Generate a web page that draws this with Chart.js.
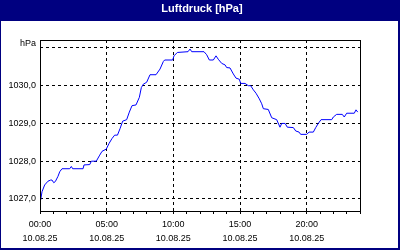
<!DOCTYPE html>
<html>
<head>
<meta charset="utf-8">
<script src="https://cdn.jsdelivr.net/npm/chart.js@4"></script>
<style>
  html, body { margin: 0; padding: 0; background: #fff; }
  canvas { display: block; }
</style>
</head>
<body>
<canvas id="chart" width="400" height="250"></canvas>
<script>
// Luftdruck vom 10.08.25, Stunden seit Mitternacht / hPa
const hours = [
    0.05, 0.15, 0.35, 0.6, 0.8, 0.9, 1.03, 1.15, 1.35, 1.48, 1.65, 2.23, 2.35, 2.45,
    3.23, 3.3, 3.73, 3.85, 4.22, 4.48, 4.65, 4.97, 5.18, 5.4, 5.6, 5.81, 6.0, 6.2,
    6.5, 6.7, 6.9, 7.2, 7.45, 7.6, 7.75, 8.0, 8.25, 8.7, 9.0, 9.25, 9.35, 9.95,
    10.05, 10.3, 11.1, 11.25, 11.38, 12.3, 12.5, 12.7, 13.0, 13.2, 13.37, 13.63,
    13.88, 14.0, 14.25, 14.5, 14.7, 14.95, 15.05, 15.38, 15.62, 15.8, 16.0, 16.2,
    16.45, 16.63, 16.75, 17.12, 17.38, 17.75, 18.0, 18.13, 18.38, 18.55, 19.0,
    19.18, 19.43, 19.55, 20.0, 20.18, 20.5, 20.68, 20.87, 21.08, 21.88, 22.0,
    22.25, 22.67, 22.82, 23.0, 23.57, 23.7, 23.83
];
const pressure = [
    1026.97, 1027.19, 1027.37, 1027.47, 1027.5, 1027.5, 1027.43, 1027.46, 1027.6, 1027.72, 1027.8, 1027.8, 1027.86, 1027.8,
    1027.8, 1027.9, 1027.91, 1028.0, 1028.0, 1028.16, 1028.26, 1028.32, 1028.47, 1028.6, 1028.69, 1028.69, 1028.86, 1029.06,
    1029.1, 1029.3, 1029.47, 1029.49, 1029.69, 1029.95, 1030.04, 1030.09, 1030.29, 1030.29, 1030.44, 1030.64, 1030.68, 1030.68,
    1030.79, 1030.88, 1030.9, 1030.97, 1030.9, 1030.9, 1030.82, 1030.68, 1030.68, 1030.79, 1030.7, 1030.59,
    1030.55, 1030.48, 1030.47, 1030.31, 1030.2, 1030.17, 1030.06, 1030.06, 1030.0, 1030.0, 1029.89, 1029.8,
    1029.65, 1029.52, 1029.39, 1029.37, 1029.15, 1029.1, 1028.9, 1029.0, 1029.0, 1028.9, 1028.89,
    1028.8, 1028.77, 1028.71, 1028.71, 1028.77, 1028.77, 1028.89, 1029.0, 1029.1, 1029.1, 1029.17,
    1029.24, 1029.24, 1029.17, 1029.27, 1029.27, 1029.36, 1029.3
];

const yTicks = [1027, 1028, 1029, 1030, 1031];
const xTicks = [0, 5, 10, 15, 20];
const dateLabel = "10.08.25";
const title = "Luftdruck [hPa]";
const unit = "hPa";

const navy = "#000080";
const tickFont = { family: "Liberation Sans", size: 9, lineHeight: 1.55 };

// Rahmen, Titelleiste und Einheit zeichnen
const framePlugin = {
    id: "frame",
    beforeDraw (chart) {
        const ctx = chart.ctx;
        ctx.save();
        ctx.fillStyle = navy;
        ctx.fillRect(0, 0, chart.width, chart.height);
        ctx.fillStyle = "#fff";
        ctx.fillRect(1, 21, chart.width - 3, chart.height - 23);

        ctx.fillStyle = "#fff";
        ctx.font = "bold 11px 'Liberation Sans'";
        ctx.textAlign = "center";
        ctx.textBaseline = "middle";
        ctx.fillText(title, chart.width / 2 + 2, 9);
        ctx.restore();
    },
    afterDraw (chart) {
        const ctx = chart.ctx;
        const a = chart.chartArea;
        ctx.save();
        ctx.strokeStyle = "#000";
        ctx.lineWidth = 1;
        ctx.strokeRect(Math.round(a.left) + 0.5, Math.round(a.top) + 0.5,
            Math.round(a.right - a.left), Math.round(a.bottom - a.top));

        ctx.fillStyle = "#000";
        ctx.font = "9px 'Liberation Sans'";
        ctx.textAlign = "right";
        ctx.textBaseline = "middle";
        ctx.fillText(unit, a.left - 4, a.top + 4);
        ctx.restore();
    }
};

new Chart(document.getElementById("chart").getContext("2d"), {
    type: "line",
    data: {
        datasets: [{
            label: title,
            data: hours.map((h, i) => ({ x: h, y: pressure[i] })),
            borderColor: "#0000ff",
            borderWidth: 1,
            pointRadius: 0,
            tension: 0,
            fill: false
        }]
    },
    options: {
        responsive: false,
        animation: false,
        layout: { padding: { left: 0, right: 40, top: 40, bottom: 0 } },
        plugins: {
            legend: { display: false },
            tooltip: { enabled: false },
            title: { display: false }
        },
        scales: {
            x: {
                type: "linear",
                min: 0,
                max: 24,
                afterBuildTicks (scale) {
                    const t = [];
                    for (let h = 0; h <= 24; h++) t.push({ value: h });
                    scale.ticks = t;
                },
                afterFit (scale) { scale.height = 39; },
                // in v4 steuert border.dash die Strichelung der Gitterlinien
                border: { display: false, dash: [3, 3] },
                grid: {
                    color: (c) => xTicks.includes(c.tick.value) && c.tick.value > 0 ? "#000" : "rgba(0,0,0,0)",
                    lineWidth: 1,
                    drawTicks: true,
                    tickLength: 3,
                    tickColor: "#000",
                    tickBorderDash: []
                },
                ticks: {
                    autoSkip: false,
                    maxRotation: 0,
                    padding: 4,
                    color: "#000",
                    font: tickFont,
                    callback: (v) => xTicks.includes(v)
                        ? [String(v).padStart(2, "0") + ":00", dateLabel]
                        : ""
                }
            },
            y: {
                type: "linear",
                min: 1026.68,
                max: 1031.21,
                afterBuildTicks (scale) {
                    scale.ticks = yTicks.map((v) => ({ value: v }));
                },
                afterFit (scale) { scale.width = 40; },
                border: { display: false, dash: [3, 3] },
                grid: {
                    color: "#000",
                    lineWidth: 1,
                    drawTicks: false
                },
                ticks: {
                    padding: 4,
                    color: "#000",
                    font: tickFont,
                    callback: (v) => v === 1031 ? "" : v.toFixed(1).replace(".", ",")
                }
            }
        }
    },
    plugins: [framePlugin]
});
</script>
</body>
</html>
